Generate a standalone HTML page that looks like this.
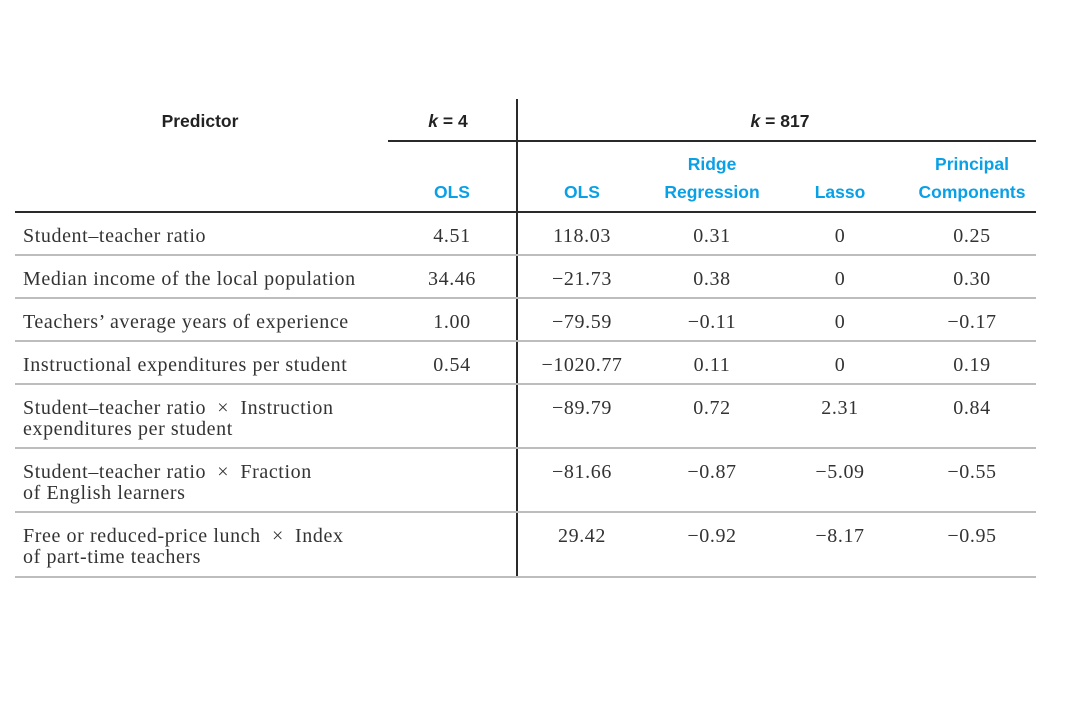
<!DOCTYPE html>
<html><head><meta charset="utf-8">
<style>
body{margin:0;background:#fff;width:1077px;height:727px;position:relative;overflow:hidden}
.t{position:absolute;font-family:"Liberation Serif",serif;font-size:20px;letter-spacing:0.6px;color:#333;line-height:21px;white-space:nowrap}
.h{position:absolute;font-family:"Liberation Sans",sans-serif;font-weight:bold;font-size:17.5px;line-height:28px;white-space:nowrap;text-align:center}
.blue{color:#0aa0e6}
.ln{position:absolute;background:#2a2a2a}
.gl{position:absolute;background:#bdbdbd;height:2px}
</style></head><body>
<div class="h" style="left:100px;top:107px;width:200px;color:#222">Predictor</div>
<div class="h" style="left:388px;top:107px;width:120px;color:#222"><i>k</i> = 4</div>
<div class="h" style="left:680px;top:107px;width:200px;color:#222"><i>k</i> = 817</div>
<div class="h blue" style="left:402px;top:178px;width:100px">OLS</div>
<div class="h blue" style="left:532px;top:178px;width:100px">OLS</div>
<div class="h blue" style="left:632px;top:150px;width:160px">Ridge<br>Regression</div>
<div class="h blue" style="left:790px;top:178px;width:100px">Lasso</div>
<div class="h blue" style="left:892px;top:150px;width:160px">Principal<br>Components</div>
<div class="ln" style="left:388px;top:140px;width:129px;height:2px"></div>
<div class="ln" style="left:517px;top:140px;width:519px;height:2px"></div>
<div class="ln" style="left:15px;top:211px;width:1021px;height:2px"></div>
<div class="ln" style="left:516px;top:99px;width:2px;height:479px"></div>
<div id="rows"></div>
<script>
const predictors=[["Student–teacher ratio"],["Median income of the local population"],["Teachers’ average years of experience"],["Instructional expenditures per student"],["Student–teacher ratio × Instruction","expenditures per student"],["Student–teacher ratio × Fraction","of English learners"],["Free or reduced-price lunch × Index","of part-time teachers"]];
const olsK4=["4.51","34.46","1.00","0.54","","",""];
const olsK817=["118.03","−21.73","−79.59","−1020.77","−89.79","−81.66","29.42"];
const ridge=["0.31","0.38","−0.11","0.11","0.72","−0.87","−0.92"];
const lasso=["0","0","0","0","2.31","−5.09","−8.17"];
const pc=["0.25","0.30","−0.17","0.19","0.84","−0.55","−0.95"];
const tops=[213,256,299,342,385,449,513];
const bottoms=[255,298,341,384,448,512,577];
const cols=[[olsK4,452,'ols-k4'],[olsK817,582,'ols-k817'],[ridge,712,'ridge'],[lasso,840,'lasso'],[pc,972,'pc']];
const root=document.getElementById('rows');
predictors.forEach((p,i)=>{
  const y=tops[i]+13;
  const d=document.createElement('div');d.className='t';
  
  
  d.style.left='23px';d.style.top=y+'px';d.innerHTML=p.join('<br>').replace(/ × /g,'&nbsp; ×&nbsp; ');root.appendChild(d);
  cols.forEach(c=>{
    const v=document.createElement('div');v.className='t';
    
    
    v.style.left=(c[1]-70)+'px';v.style.width='140px';v.style.textAlign='center';v.style.top=y+'px';v.textContent=c[0][i];root.appendChild(v);
  });
  const g=document.createElement('div');g.className='gl';
  
  
  g.style.left='15px';g.style.width='1021px';g.style.top=(bottoms[i]-1)+'px';root.appendChild(g);
});
</script>
</body></html>
